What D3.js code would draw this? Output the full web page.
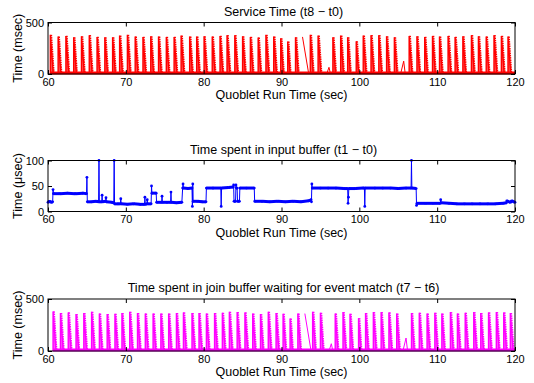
<!DOCTYPE html>
<html>
<head>
<meta charset="utf-8">
<script src="https://cdn.jsdelivr.net/npm/d3@7"></script>
<style>
  html, body { margin: 0; padding: 0; background: #fff; }
  svg { display: block; font-family: "Liberation Sans", Arial, sans-serif; }
</style>
</head>
<body>
<div id="chart"></div>
<script>
// x axis shared by all three panels
const xTicks = [60, 70, 80, 90, 100, 110, 120]

// Service Time (t8 - t0): start of each batch spike (sec) and its peak (msec)
const serviceT = [60.3, 61.3, 62.3, 63.3, 64.3, 65.3, 66.3, 67.3, 68.3, 69.2,
  70.2, 71.2, 72.2, 73.2, 74.2, 75.2, 76.2, 77.1, 78.2, 79.1,
  80.05, 81.1, 82.1, 83.0, 84.0, 85.0, 86.0, 87.0, 88.0, 89.0,
  89.9, 90.8, 91.8, 93.7, 94.7, 96.6, 97.6, 98.5, 99.6, 100.5,
  101.5, 102.5, 103.5, 104.5, 106.4, 107.4, 108.4, 109.4, 110.3, 111.4,
  112.3, 113.3, 114.4, 115.3, 116.3, 117.3, 118.25, 119.1]
const servicePk = [380, 364, 370, 357, 367, 377, 360, 357, 357, 373,
  380, 364, 360, 367, 364, 360, 360, 373, 364, 364,
  367, 364, 370, 377, 377, 367, 360, 354, 380, 364,
  347, 315, 357, 380, 373, 357, 373, 357, 318, 373,
  377, 377, 367, 357, 370, 367, 360, 370, 364, 370,
  360, 367, 377, 367, 364, 377, 370, 364]
// odd pieces: [t0, v0, t1, v1]
const serviceOdd = [[92.7, 360, 93.5, 0], [95.8, 0, 96.1, 65], [96.1, 65, 96.3, 0],
  [105.3, 0, 105.7, 125], [105.7, 125, 105.9, 0]]

// Time spent in input buffer (t1 - t0), [sec, usec]
const inputBuf = [[60.0, 18], [60.2, 20], [60.4, 18], [60.6, 19], [60.65, 43], [60.7, 35], [61.5, 35], [62.5, 36],
  [63.5, 35], [64.5, 36], [64.95, 35], [65.0, 67], [65.05, 19], [65.6, 19], [66.2, 20], [66.5, 19],
  [66.55, 100], [66.6, 19], [66.9, 19], [66.95, 32], [67.0, 19], [67.4, 20], [67.45, 27], [67.5, 19],
  [68.2, 18], [68.45, 17], [68.5, 100], [68.55, 15], [69.0, 15], [69.3, 15], [69.35, 25], [69.4, 15],
  [70.2, 14], [71.0, 15], [71.8, 14], [72.4, 14], [72.45, 28], [72.5, 14], [72.7, 15], [72.75, 23],
  [72.8, 15], [73.25, 15], [73.3, 50], [73.35, 36], [73.9, 36], [73.95, 18], [74.6, 18], [74.65, 30],
  [74.7, 18], [75.3, 18], [75.75, 18], [75.8, 38], [75.85, 18], [76.5, 17], [77.2, 18], [77.3, 46],
  [77.35, 54], [77.4, 46], [78.0, 45], [78.5, 46], [78.55, 10], [78.6, 54], [78.65, 20], [79.2, 20],
  [79.8, 19], [80.3, 19], [80.35, 46], [81.2, 46], [82.2, 46], [82.25, 10], [82.3, 46], [83.2, 47],
  [83.8, 48], [83.85, 52], [83.9, 20], [84.1, 20], [84.15, 52], [84.2, 46], [84.3, 46], [84.35, 20],
  [84.6, 20], [84.65, 46], [85.5, 46], [86.5, 46], [86.55, 20], [87.5, 20], [88.5, 19], [89.5, 20],
  [90.5, 19], [91.5, 20], [92.5, 19], [93.5, 21], [93.8, 23], [93.85, 19], [93.9, 54], [93.95, 46],
  [95, 46], [96, 46], [97, 46], [98, 45], [98.5, 45], [98.55, 16], [98.6, 28], [98.65, 45],
  [99.5, 45], [100.5, 46], [100.65, 46], [100.7, 10], [100.75, 46], [102, 46], [103, 46], [104, 46],
  [105, 45], [106, 46], [106.65, 46], [106.7, 100], [106.75, 46], [107.3, 45], [107.35, 12], [107.4, 16],
  [108.5, 16], [109.5, 16], [110.4, 16], [110.45, 23], [110.5, 17], [111.5, 16], [112.5, 15], [113.5, 15],
  [114.5, 15], [115.5, 15], [116.5, 15], [117.5, 15], [118.5, 16], [118.9, 17], [118.95, 21], [119.4, 18],
  [119.6, 21], [120, 18]]

// Time spent in join buffer (t7 - t6): spike start (sec) and peak (msec)
const joinT = [60.65, 61.6, 62.6, 63.6, 64.6, 65.6, 66.6, 67.6, 68.6, 69.5,
  70.5, 71.5, 72.5, 73.5, 74.5, 75.5, 76.5, 77.4, 78.5, 79.4,
  80.35, 81.4, 82.4, 83.3, 84.3, 85.3, 86.3, 87.3, 88.3, 89.3,
  90.2, 91.1, 92.1, 94.0, 95.0, 96.9, 97.9, 98.8, 99.9, 100.8,
  101.8, 102.8, 103.8, 104.8, 106.7, 107.7, 108.7, 109.7, 110.6, 111.7,
  112.6, 113.6, 114.7, 115.6, 116.6, 117.6, 118.55, 119.4]
const joinPk = [381, 365, 371, 355, 365, 377, 361, 355, 358, 365,
  377, 365, 361, 361, 361, 361, 365, 371, 365, 365,
  361, 365, 368, 377, 374, 371, 361, 355, 377, 365,
  358, 313, 361, 377, 368, 361, 374, 358, 316, 365,
  374, 374, 371, 361, 365, 368, 361, 368, 361, 374,
  361, 368, 374, 365, 371, 374, 371, 365]
const joinOdd = [[93.0, 360, 93.8, 0], [96.1, 0, 96.4, 70], [96.4, 70, 96.6, 0],
  [105.6, 0, 106.0, 125], [106.0, 125, 106.2, 0]]

const W = 534, H = 383
const LEFT = 48, RIGHT = 515

const svg = d3.select('#chart').append('svg')
  .attr('width', W)
  .attr('height', H)

const x = d3.scaleLinear().domain([60, 120]).range([LEFT, RIGHT])

function panel(top, bottom, yMax, yTicks, title, ylabel) {
  const y = d3.scaleLinear().domain([0, yMax]).range([bottom, top])
  const g = svg.append('g')

  g.append('text')
    .attr('x', (LEFT + RIGHT) / 2 + 2)
    .attr('y', top - 7)
    .attr('text-anchor', 'middle')
    .attr('font-size', 12.5)
    .text(title)

  g.append('text')
    .attr('transform', `translate(22, ${(top + bottom) / 2}) rotate(-90)`)
    .attr('text-anchor', 'middle')
    .attr('font-size', 12.5)
    .text(ylabel)

  g.append('text')
    .attr('x', (LEFT + RIGHT) / 2)
    .attr('y', bottom + 25)
    .attr('text-anchor', 'middle')
    .attr('font-size', 12.5)
    .text('Quoblet Run Time (sec)')

  const plot = g.append('g')
  return { g, plot, y, top, bottom, yTicks }
}

function axes(p) {
  const { g, y, top, bottom, yTicks } = p
  const style = a => a.call(s => s.select('.domain').remove())
    .call(s => s.selectAll('text').attr('font-size', 11).attr('fill', '#000'))
    .call(s => s.selectAll('line').attr('stroke', '#000'))

  g.append('g').attr('transform', `translate(0, ${bottom})`)
    .call(d3.axisBottom(x).tickValues(xTicks).tickSizeInner(-4).tickSizeOuter(0).tickPadding(4))
    .call(style)
  g.append('g').attr('transform', `translate(0, ${top})`)
    .call(d3.axisTop(x).tickValues(xTicks).tickSizeInner(-4).tickSizeOuter(0).tickFormat(''))
    .call(style)
  g.append('g').attr('transform', `translate(${LEFT}, 0)`)
    .call(d3.axisLeft(y).tickValues(yTicks).tickSizeInner(-4).tickSizeOuter(0).tickPadding(4))
    .call(style)
  g.append('g').attr('transform', `translate(${RIGHT}, 0)`)
    .call(d3.axisRight(y).tickValues(yTicks).tickSizeInner(-4).tickSizeOuter(0).tickFormat(''))
    .call(style)

  g.append('rect')
    .attr('x', LEFT).attr('y', top)
    .attr('width', RIGHT - LEFT).attr('height', bottom - top)
    .attr('fill', 'none').attr('stroke', '#000').attr('stroke-width', 1)
}

function spikes(p, times, peaks, odd, color) {
  const { plot, y } = p
  const data = times.map((t, i) => ({ t, v: peaks[i] }))
  const tri = d => `M${x(d.t)},${y(0)}L${x(d.t)},${y(d.v)}L${x(d.t + d.v / 1000)},${y(0)}`

  // thick row of markers sitting on zero
  plot.append('line')
    .attr('x1', x(times[0])).attr('x2', x(120))
    .attr('y1', y(0) - 1).attr('y2', y(0) - 1)
    .attr('stroke', color).attr('stroke-width', 3)

  plot.selectAll('path.fill').data(data).join('path')
    .attr('class', 'fill')
    .attr('d', tri)
    .attr('fill', color).attr('fill-opacity', 0.7)
    .attr('stroke', color).attr('stroke-width', 1.4)

  plot.selectAll('path.dots').data(data).join('path')
    .attr('class', 'dots')
    .attr('d', d => `M${x(d.t) + 0.8},${y(d.v)}L${x(d.t + d.v / 1000) + 0.5},${y(0)}`)
    .attr('fill', 'none')
    .attr('stroke', color).attr('stroke-width', 2)
    .attr('stroke-dasharray', '1.5,0.8')

  plot.selectAll('line.odd').data(odd).join('line')
    .attr('class', 'odd')
    .attr('x1', d => x(d[0])).attr('y1', d => y(d[1]))
    .attr('x2', d => x(d[2])).attr('y2', d => y(d[3]))
    .attr('stroke', color).attr('stroke-width', 1)
}

function steps(p, pts, color) {
  const { plot, y } = p
  const line = d3.line().x(d => x(d[0])).y(d => y(d[1]))
  plot.append('path')
    .attr('d', line(pts))
    .attr('fill', 'none').attr('stroke', color).attr('stroke-width', 1)

  // level runs look thicker because of the dense markers
  const runs = d3.pairs(pts).filter(([a, b]) => Math.abs(a[1] - b[1]) <= 3)
  plot.selectAll('line.run').data(runs).join('line')
    .attr('class', 'run')
    .attr('x1', d => x(d[0][0])).attr('y1', d => y(d[0][1]))
    .attr('x2', d => x(d[1][0])).attr('y2', d => y(d[1][1]))
    .attr('stroke', color).attr('stroke-width', 3)

  plot.selectAll('circle').data(pts).join('circle')
    .attr('cx', d => x(d[0])).attr('cy', d => y(d[1]))
    .attr('r', 1.4).attr('fill', color)
}

const p1 = panel(22.5, 74, 500, [0, 500], 'Service Time (t8 \u2212 t0)', 'Time (msec)')
spikes(p1, serviceT, servicePk, serviceOdd, '#ff0000')
axes(p1)

const p2 = panel(160.5, 211.5, 100, [0, 50, 100], 'Time spent in input buffer (t1 \u2212 t0)', 'Time (\u03bcsec)')
steps(p2, inputBuf, '#0000ff')
axes(p2)

const p3 = panel(299, 351, 500, [0, 500], 'Time spent in join buffer waiting for event match (t7 \u2212 t6)', 'Time (msec)')
spikes(p3, joinT, joinPk, joinOdd, '#ff00ff')
axes(p3)
</script>
</body>
</html>
